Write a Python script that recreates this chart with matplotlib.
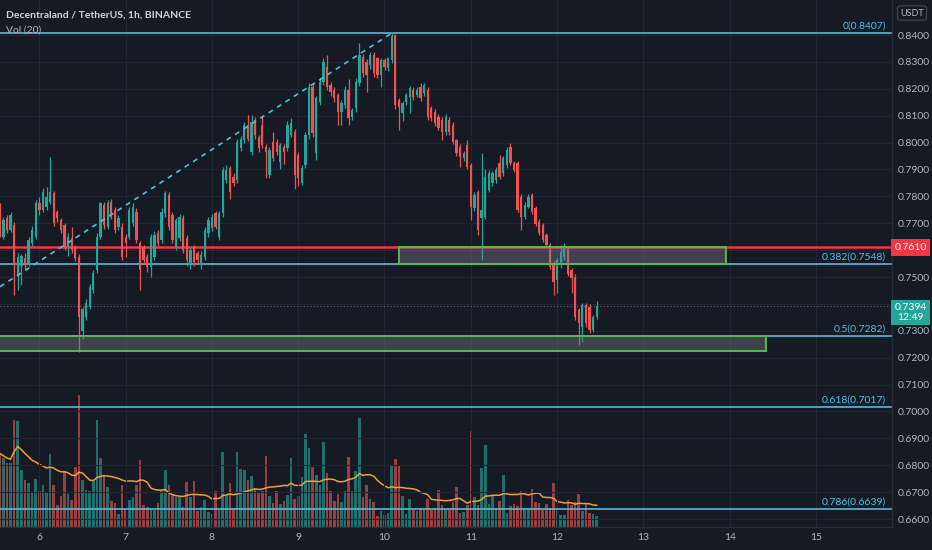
import matplotlib
matplotlib.use('Agg')
import matplotlib.pyplot as plt
import matplotlib.transforms as mtransforms
from matplotlib.patches import Rectangle
import numpy as np
import pandas as pd

plt.rcParams['font.family'] = ['Lato', 'DejaVu Sans']

title = "Decentraland / TetherUS, 1h, BINANCE"
vol_title = "Vol (20)"
quote = "USDT"
last_time = "12:49"

# hourly candles (price in USDT)
opens = [0.7761,0.7650,0.7718,0.7675,0.7693,0.7507,0.7540,0.7569,0.7551,0.7625,
         0.7650,0.7774,0.7749,0.7761,0.7780,0.7811,0.7743,0.7712,0.7693,0.7613,
         0.7644,0.7613,0.7576,0.7300,0.7352,0.7390,0.7452,0.7526,0.7650,0.7768,
         0.7687,0.7780,0.7749,0.7687,0.7687,0.7650,0.7650,0.7700,0.7743,0.7625,
         0.7613,0.7576,0.7538,0.7576,0.7662,0.7637,0.7737,0.7805,0.7730,0.7613,
         0.7644,0.7718,0.7644,0.7551,0.7613,0.7588,0.7545,0.7576,0.7662,0.7681,
         0.7737,0.7650,0.7737,0.7861,0.7904,0.7873,0.7860,0.7978,0.8009,0.8065,
         0.7966,0.8084,0.8022,0.8065,0.7984,0.7880,0.8003,0.8003,0.7929,0.7984,
         0.7978,0.8028,0.8040,0.7953,0.7848,0.7916,0.8028,0.8208,0.7960,0.8152,
         0.8226,0.8282,0.8214,0.8195,0.8177,0.8115,0.8139,0.8195,0.8096,0.8127,
         0.8220,0.8319,0.8301,0.8288,0.8325,0.8313,0.8251,0.8307,0.8276,0.8307,
         0.8400,0.8158,0.8109,0.8152,0.8171,0.8195,0.8177,0.8208,0.8183,0.8195,
         0.8127,0.8115,0.8096,0.8084,0.8040,0.8084,0.8065,0.8009,0.7985,0.7941,
         0.7991,0.7916,0.7755,0.7817,0.7718,0.7724,0.7823,0.7848,0.7861,0.7923,
         0.7885,0.7916,0.7985,0.7923,0.7923,0.7799,0.7724,0.7762,0.7805,0.7755,
         0.7706,0.7693,0.7656,0.7619,0.7551,0.7489,0.7544,0.7575,0.7606,0.7526,
         0.7501,0.7377,0.7315,0.7396,0.7390,0.7303,0.7352]
highs = [0.7775,0.7725,0.7730,0.7740,0.7705,0.7590,0.7585,0.7590,0.7650,0.7690,
         0.7785,0.7799,0.7830,0.7836,0.7947,0.7820,0.7750,0.7720,0.7700,0.7662,
         0.7687,0.7620,0.7585,0.7390,0.7420,0.7475,0.7525,0.7662,0.7780,0.7780,
         0.7785,0.7790,0.7760,0.7730,0.7700,0.7660,0.7760,0.7775,0.7755,0.7635,
         0.7620,0.7585,0.7660,0.7670,0.7675,0.7755,0.7820,0.7815,0.7740,0.7720,
         0.7735,0.7730,0.7655,0.7610,0.7620,0.7595,0.7595,0.7685,0.7725,0.7735,
         0.7745,0.7745,0.7910,0.7915,0.7912,0.7885,0.8015,0.8025,0.8075,0.8102,
         0.8102,0.8095,0.8030,0.8096,0.7995,0.7985,0.8040,0.8012,0.8000,0.7995,
         0.8080,0.8090,0.8050,0.7965,0.7915,0.8040,0.8220,0.8220,0.8175,0.8240,
         0.8315,0.8325,0.8225,0.8205,0.8185,0.8160,0.8210,0.8235,0.8130,0.8240,
         0.8369,0.8330,0.8310,0.8335,0.8335,0.8320,0.8315,0.8315,0.8320,0.8407,
         0.8405,0.8165,0.8155,0.8185,0.8210,0.8205,0.8205,0.8220,0.8222,0.8205,
         0.8135,0.8125,0.8105,0.8095,0.8105,0.8095,0.8075,0.8015,0.7995,0.7970,
         0.8009,0.7925,0.7815,0.7825,0.7960,0.7900,0.7898,0.7895,0.7910,0.7954,
         0.7950,0.7985,0.8000,0.7930,0.7930,0.7810,0.7780,0.7810,0.7812,0.7765,
         0.7715,0.7700,0.7665,0.7625,0.7560,0.7570,0.7619,0.7625,0.7615,0.7535,
         0.7510,0.7385,0.7405,0.7405,0.7400,0.7360,0.7410]
lows = [0.7650,0.7640,0.7665,0.7668,0.7433,0.7452,0.7470,0.7530,0.7540,0.7615,
        0.7640,0.7730,0.7740,0.7750,0.7770,0.7690,0.7705,0.7665,0.7600,0.7580,
        0.7590,0.7560,0.7222,0.7270,0.7340,0.7380,0.7440,0.7514,0.7640,0.7680,
        0.7680,0.7715,0.7665,0.7675,0.7565,0.7576,0.7640,0.7690,0.7625,0.7452,
        0.7550,0.7520,0.7501,0.7565,0.7615,0.7625,0.7725,0.7675,0.7625,0.7600,
        0.7635,0.7590,0.7540,0.7530,0.7540,0.7550,0.7530,0.7565,0.7650,0.7670,
        0.7680,0.7637,0.7725,0.7850,0.7792,0.7840,0.7850,0.7970,0.8000,0.8005,
        0.7955,0.8015,0.7965,0.7980,0.7867,0.7870,0.7930,0.7955,0.7900,0.7922,
        0.7970,0.8020,0.7829,0.7840,0.7842,0.7905,0.8015,0.8020,0.7935,0.8140,
        0.8215,0.8195,0.8175,0.8150,0.8065,0.8065,0.8130,0.8065,0.8085,0.8115,
        0.8210,0.8245,0.8189,0.8275,0.8245,0.8240,0.8208,0.8270,0.8265,0.8295,
        0.8125,0.8047,0.8080,0.8140,0.8109,0.8160,0.8170,0.8155,0.8175,0.8085,
        0.8080,0.8060,0.8045,0.8009,0.8030,0.8030,0.7995,0.7950,0.7910,0.7930,
        0.7900,0.7712,0.7745,0.7656,0.7563,0.7715,0.7815,0.7840,0.7850,0.7865,
        0.7875,0.7905,0.7915,0.7890,0.7740,0.7675,0.7715,0.7755,0.7735,0.7690,
        0.7655,0.7630,0.7610,0.7530,0.7433,0.7439,0.7535,0.7565,0.7505,0.7439,
        0.7340,0.7247,0.7259,0.7315,0.7290,0.7295,0.7345]
closes = [0.7662,0.7712,0.7675,0.7730,0.7545,0.7576,0.7580,0.7545,0.7637,0.7675,
          0.7774,0.7749,0.7817,0.7799,0.7817,0.7700,0.7718,0.7675,0.7613,0.7650,
          0.7600,0.7569,0.7352,0.7380,0.7402,0.7464,0.7514,0.7650,0.7774,0.7693,
          0.7774,0.7724,0.7675,0.7718,0.7576,0.7625,0.7749,0.7761,0.7637,0.7526,
          0.7563,0.7538,0.7650,0.7656,0.7625,0.7743,0.7811,0.7687,0.7637,0.7712,
          0.7724,0.7600,0.7563,0.7600,0.7557,0.7563,0.7582,0.7675,0.7712,0.7724,
          0.7687,0.7737,0.7898,0.7898,0.7817,0.7848,0.8003,0.8015,0.8065,0.8015,
          0.8077,0.8028,0.7978,0.7991,0.7966,0.7972,0.7941,0.7966,0.7991,0.7966,
          0.8065,0.8071,0.7879,0.7867,0.7904,0.8028,0.8208,0.8034,0.8164,0.8226,
          0.8301,0.8208,0.8189,0.8164,0.8115,0.8146,0.8195,0.8090,0.8121,0.8226,
          0.8325,0.8257,0.8251,0.8325,0.8257,0.8251,0.8307,0.8282,0.8313,0.8395,
          0.8140,0.8133,0.8146,0.8177,0.8202,0.8171,0.8195,0.8164,0.8214,0.8096,
          0.8090,0.8071,0.8053,0.8040,0.8096,0.8040,0.8003,0.7960,0.7947,0.7960,
          0.7910,0.7762,0.7805,0.7675,0.7749,0.7873,0.7885,0.7885,0.7898,0.7873,
          0.7941,0.7972,0.7923,0.7898,0.7749,0.7724,0.7768,0.7799,0.7743,0.7699,
          0.7662,0.7637,0.7619,0.7538,0.7483,0.7563,0.7594,0.7613,0.7513,0.7495,
          0.7352,0.7328,0.7396,0.7328,0.7303,0.7352,0.7394]
volumes = [220,207,192,192,319,317,172,140,132,104,
           145,107,125,102,217,127,65,92,167,100,
           82,179,395,140,112,107,137,319,205,152,
           119,77,72,40,127,55,80,89,125,200,
           65,59,55,52,72,109,170,125,95,90,
           89,59,135,89,137,47,59,82,44,39,
           107,52,225,97,132,57,224,173,170,140,
           154,117,104,107,212,92,72,107,69,77,
           95,205,85,94,149,279,237,179,157,127,
           255,161,107,77,100,75,107,209,107,167,
           327,89,127,84,74,32,47,35,42,185,
           202,182,92,39,85,50,49,57,52,85,
           52,54,110,67,55,52,75,119,42,44,
           65,287,89,65,177,245,69,94,57,79,
           155,42,62,69,62,107,52,52,115,75,
           72,52,69,57,132,52,37,35,80,65,
           75,100,47,69,42,39,34]

last_candle_day = 12.459          # day-of-month position of the last hourly candle
day_ticks = [6, 7, 8, 9, 10, 11, 12, 13, 14, 15]
price_ticks = [round(0.66 + 0.01 * k, 2) for k in range(19)]

fib_ratios = ["0", "0.382", "0.5", "0.618", "0.786"]
fib_prices = [0.8407, 0.7548, 0.7282, 0.7017, 0.6639]
resistance = 0.7610
zones = [(10.168, 13.957, 0.7548, 0.7610),
         (5.40, 14.421, 0.7225, 0.7282)]
trend_start = (5.5446, 0.7464)

# ---------------------------------------------------------------------------
BG = '#161a25'
UP, DOWN = '#26a69a', '#ef5350'
TXT = '#b2b5be'
FIB = '#58b9d4'
W, H = 932, 550
rect = [0, 23 / H, 892 / W, 527 / H]

n = len(opens)
x = last_candle_day - (n - 1 - np.arange(n)) / 24.0
up = np.array(closes) >= np.array(opens)
cols = np.where(up, UP, DOWN)

fig = plt.figure(figsize=(W / 100, H / 100), dpi=100, facecolor=BG)
axv = fig.add_axes(rect)
ax = fig.add_axes(rect)
xlim = (5.5446, 15.8808)
ylim = (0.65704, 0.85302)

# volume pane (behind)
axv.set_facecolor(BG)
axv.bar(x, volumes, width=0.72 / 24, color=cols, alpha=0.62, linewidth=0)
ma = pd.Series(volumes).rolling(20, min_periods=1).mean()
axv.plot(x, ma, color='#f0a030', lw=1.1)
axv.set_xlim(*xlim)
axv.set_ylim(0, 1577)
axv.set_xticks([])
axv.set_yticks([])
for s in axv.spines.values():
    s.set_visible(False)

# price pane
hidden = {round(resistance, 2), round(closes[-1], 2)}   # covered by the price-axis boxes
ax.patch.set_visible(False)
ax.set_xlim(*xlim)
ax.set_ylim(*ylim)
ax.set_xticks(day_ticks)
ax.set_xticklabels([str(d) for d in day_ticks])
ax.set_yticks(price_ticks)
ax.set_yticklabels(["" if p in hidden else f"{p:.4f}" for p in price_ticks])
ax.yaxis.tick_right()
ax.tick_params(axis='y', length=0, pad=4.5, labelcolor=TXT, labelsize=7.5)
ax.tick_params(axis='x', length=0, pad=4, labelcolor=TXT, labelsize=7.5)
ax.grid(True, color='#222632', lw=0.8)
for k in ['top', 'left']:
    ax.spines[k].set_visible(False)
for k in ['right', 'bottom']:
    ax.spines[k].set_color('#2a2e39')
    ax.spines[k].set_linewidth(1)

# wicks and bodies
ax.vlines(x, lows, highs, colors=cols, lw=0.9, zorder=3)
bottoms = np.minimum(opens, closes)
heights = np.maximum(np.abs(np.array(closes) - np.array(opens)), 0.0002)
ax.bar(x, heights, bottom=bottoms, width=0.64 / 24, color=cols, linewidth=0, zorder=3)

# fib levels
bt = mtransforms.blended_transform_factory(ax.transAxes, ax.transData)
for r, p in zip(fib_ratios, fib_prices):
    ax.axhline(p, color=FIB, lw=1.2, zorder=2)
    ax.annotate(f"{r}({p:.4f})", xy=(886 / 892, p), xycoords=bt,
                xytext=(0, 1.5), textcoords='offset points', ha='right', va='bottom',
                color='#4cc4e2', fontsize=7.5, zorder=6)

# resistance
ax.axhline(resistance, color='#f23645', lw=1.8, zorder=2)

# current price dotted line
ax.axhline(closes[-1], color='#6a6d78', lw=0.8, ls=(0, (1, 2)), zorder=2)

# trend line
ax.plot([trend_start[0], x[int(np.argmax(highs))]], [trend_start[1], max(highs)],
        color='#4fc3dc', lw=1.2, ls=(0, (3, 3)), zorder=4)

# zones
for (x0, x1, y0, y1) in zones:
    ax.add_patch(Rectangle((x0, y0), x1 - x0, y1 - y0, facecolor=(0.47, 0.48, 0.53, 0.42),
                           edgecolor='#56b94a', lw=1.4, zorder=5))

# price axis labels
ax.text(910.5 / 892, resistance, f"{resistance:.4f}", transform=bt, ha='center', va='center',
        color='white', fontsize=7.5, zorder=10, clip_on=False,
        bbox=dict(boxstyle='square,pad=0.35', fc='#f23645', ec='none'))
ax.text(910.5 / 892, closes[-1] - 0.0026, f"{closes[-1]:.4f}\n{last_time}", transform=bt,
        ha='center', va='center', color='white', fontsize=7.5, linespacing=1.05, zorder=10,
        clip_on=False, bbox=dict(boxstyle='square,pad=0.35', fc='#26a69a', ec='none'))

fig.text(912 / W, 1 - 13 / H, quote, ha='center', va='center', fontsize=6.5, color=TXT,
         bbox=dict(boxstyle='round,pad=0.3', fc=BG, ec='#434651', lw=0.8))

fig.text(6 / W, 1 - 15 / H, title, ha='left', va='center', fontsize=7.5, color='#d1d4dc',
         fontweight='bold')
fig.text(6 / W, 1 - 30 / H, vol_title, ha='left', va='center', fontsize=7.5, color=TXT)

fig.savefig('out.png', dpi=100, facecolor=BG)
